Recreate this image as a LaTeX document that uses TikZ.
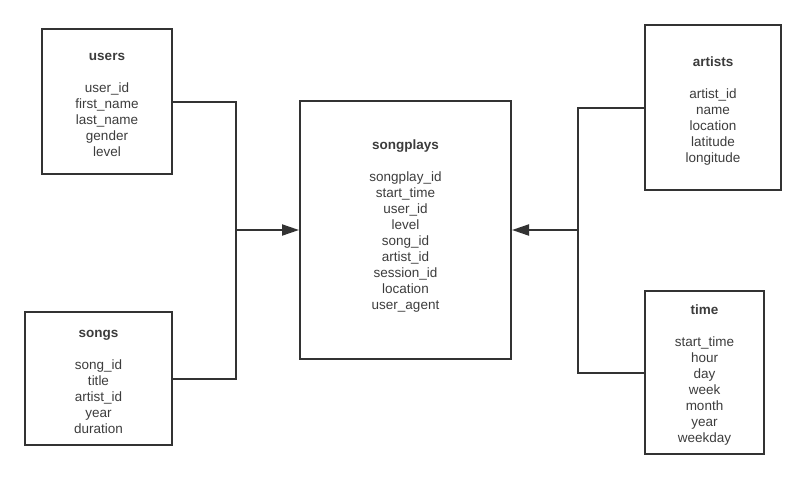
\documentclass[tikz,border=0pt]{standalone}
\usepackage{fontspec}
\setmainfont{Liberation Sans}
\usetikzlibrary{arrows.meta}
\definecolor{linegray}{HTML}{333333}
\definecolor{textgray}{HTML}{3C3C3C}

\begin{document}
\begin{tikzpicture}[x=1pt, y=-1pt,
  table/.style 2 args={draw=linegray, line width=2pt, minimum width=#1, minimum height=#2, inner sep=0pt},
  fields/.style={align=center, anchor=north, inner sep=0pt, text=textgray, font=\fontsize{13.5}{16}\selectfont},
  link/.style={draw=linegray, line width=2pt},
  feed/.style={link, -{Triangle[length=17pt,width=11pt]}}]
    \useasboundingbox (0,0) rectangle (805,479);
    \node[table={130}{145}](users) at (107,101.5){};
    \node[table={147}{133}](songs) at (98.5,378.5){};
    \node[table={211}{258}](songplays) at (405.5,230){};
    \node[table={136}{165}](artists) at (713,107.5){};
    \node[table={119}{163}](time) at (704.5,372.5){};
    \node[fields](userscols) at (107,49.5){\strut\textbf{users}\\[16pt]user\_id\\first\_name\\last\_name\\gender\\level};
    \node[fields](songscols) at (98.5,326.5){\strut\textbf{songs}\\[16pt]song\_id\\title\\artist\_id\\year\\duration};
    \node[fields](songplayscols) at (405.5,138){\strut\textbf{songplays}\\[16pt]songplay\_id\\start\_time\\user\_id\\level\\song\_id\\artist\_id\\session\_id\\location\\user\_agent};
    \node[fields](artistscols) at (713,55){\strut\textbf{artists}\\[16pt]artist\_id\\name\\location\\latitude\\longitude};
    \node[fields](timecols) at (704.5,303){\strut\textbf{time}\\[16pt]start\_time\\hour\\day\\week\\month\\year\\weekday};
    \coordinate (leftjoin) at (236,230);
    \coordinate (rightjoin) at (578,230);
    \draw[link] (users.east) -| (leftjoin);
    \draw[link] (songs.east) -| (leftjoin);
    \draw[feed] (leftjoin) -- (songplays.west);
    \draw[link] (artists.west) -| (rightjoin);
    \draw[link] (time.west) -| (rightjoin);
    \draw[feed] (rightjoin) -- (songplays.east);
\end{tikzpicture}
\end{document}
